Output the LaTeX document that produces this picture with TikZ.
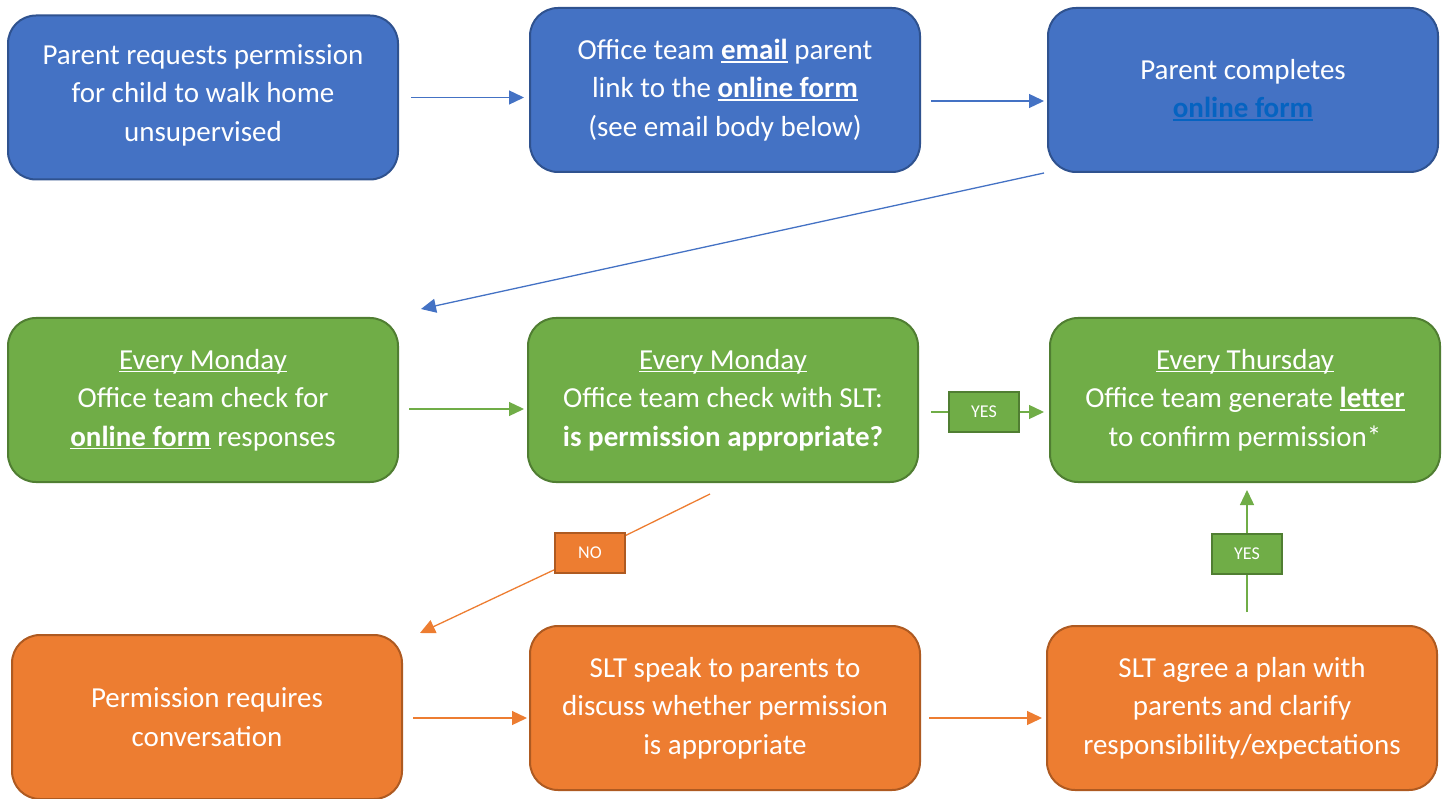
\documentclass[tikz,border=0pt]{standalone}
\usepackage{fontspec}
\setmainfont{Carlito}
\usetikzlibrary{arrows.meta}

\definecolor{blueFill}{HTML}{4472C4}
\definecolor{blueLine}{HTML}{2F528F}
\definecolor{greenFill}{HTML}{70AD47}
\definecolor{greenLine}{HTML}{507E32}
\definecolor{orangeFill}{HTML}{ED7D31}
\definecolor{orangeLine}{HTML}{AE5A21}
\definecolor{linkBlue}{HTML}{0563C1}

% underline close to the baseline, as the reference sets it
\newcommand\ulin[1]{\setbox0\hbox{#1}\rlap{\rule[-3.2pt]{\wd0}{1.6pt}}\box0\relax}

\begin{document}
\begin{tikzpicture}[x=1pt,y=-1pt,
  stepbox/.style={rounded corners=28pt, line width=2pt, minimum width=390pt,
    minimum height=164pt, inner sep=0pt, align=center, text=white,
    font=\fontsize{29}{38.5}\selectfont},
  bluebox/.style={stepbox, fill=blueFill, draw=blueLine},
  greenbox/.style={stepbox, fill=greenFill, draw=greenLine},
  orangebox/.style={stepbox, fill=orangeFill, draw=orangeLine},
  tag/.style={line width=2pt, minimum width=70pt, minimum height=40pt,
    inner sep=0pt, text=white, font=\fontsize{18}{20}\selectfont},
  flow/.style={line width=1.3pt, -{Triangle[length=15pt,width=14pt]}},
]
\useasboundingbox (0,0) rectangle (1447,799);

% first row
\node [bluebox] (request) at (203,97.5) {Parent requests permission\\for child to walk home\\unsupervised\\[-29pt]};
\node [bluebox] (email) at (725,90) {Office team \ulin{\textbf{email}} parent\\link to the \ulin{\textbf{online form}}\\(see email body below)};
\node [bluebox] (complete) at (1243,90) {Parent completes\\{\color{linkBlue}\ulin{\textbf{online form}}}};

% second row
\node [greenbox] (check) at (203,400) {\ulin{Every Monday}\\Office team check for\\\ulin{\textbf{online form}} responses};
\node [greenbox] (slt) at (723,400) {\ulin{Every Monday}\\Office team check with SLT:\\\textbf{is permission appropriate?}};
\node [greenbox] (letter) at (1245,400) {\ulin{Every Thursday}\\Office team generate \ulin{\textbf{letter}}\\to confirm permission*};

% third row
\node [orangebox] (talk) at (207,717) {Permission requires\\conversation};
\node [orangebox] (speak) at (725,708) {SLT speak to parents to\\discuss whether permission\\is appropriate};
\node [orangebox] (plan) at (1242,708) {SLT agree a plan with\\parents and clarify\\responsibility/expectations};

% answers
\node [tag, fill=greenFill, draw=greenLine] (yesSlt) at (984,412) {YES};
\node [tag, fill=orangeFill, draw=orangeLine] (noSlt) at (590,553) {NO};
\node [tag, fill=greenFill, draw=greenLine] (yesPlan) at (1247,554) {YES};

\coordinate (fromSlt) at (710,494);
\coordinate (toTalk) at (420,633);
\coordinate (fromPlan) at (1247,612);
\coordinate (toLetter) at (1247,490);

% connectors
\draw [flow, blueFill] ([xshift=12pt]request.east) -- ([xshift=-5pt]request.east -| email.west);
\draw [flow, blueFill] ([shift={(10pt,-11pt)}]email.east) -- ([shift={(-3pt,-11pt)}]complete.west);
\draw [flow, blueFill] ([xshift=-3pt]complete.south west) -- ([shift={(22pt,8pt)}]check.north east);

\draw [flow, greenFill] ([shift={(10pt,-9pt)}]check.east) -- ([shift={(-3pt,-9pt)}]slt.west);
\draw [line width=1.3pt, greenFill] ([xshift=12pt]yesSlt.west -| slt.east) -- (yesSlt.west);
\draw [flow, greenFill] (yesSlt.east) -- ([xshift=-5pt]yesSlt.east -| letter.west);

\draw [line width=1.3pt, orangeFill] (fromSlt) -- (noSlt);
\draw [flow, orangeFill] (noSlt) -- (toTalk);
\draw [flow, orangeFill] ([shift={(10pt,-1pt)}]talk.east) -- ([shift={(-2pt,-1pt)}]talk.east -| speak.west);
\draw [flow, orangeFill] ([shift={(8pt,-10pt)}]speak.east) -- ([shift={(-4pt,-10pt)}]plan.west);

\draw [line width=1.3pt, greenFill] (fromPlan) -- (yesPlan);
\draw [flow, greenFill] (yesPlan) -- (toLetter);
\end{tikzpicture}
\end{document}
